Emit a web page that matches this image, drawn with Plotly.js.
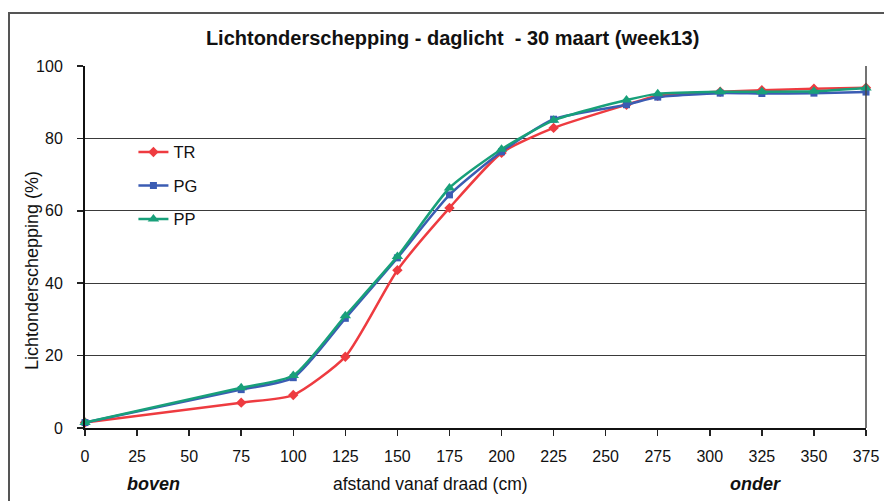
<!DOCTYPE html>
<html>
<head>
<meta charset="utf-8">
<script src="https://cdn.plot.ly/plotly-3.0.1.min.js"></script>
<style>
  body { margin: 0; background: #fff; }
  #frame { position: absolute; left: 8px; top: 12px; width: 900px; height: 520px;
           border: 2px solid #555; box-sizing: border-box; }
  #chart { position: absolute; left: 0; top: 0; width: 884px; height: 501px; }
</style>
</head>
<body>
<div id="frame"></div>
<div id="chart"></div>
<script>
// afstand vanaf draad (cm)
const distance = [0, 75, 100, 125, 150, 175, 200, 225, 260, 275, 305, 325, 350, 375];

// lichtonderschepping (%) per behandeling
const tr = [1.5, 7.0, 9.1, 19.7, 43.6, 60.8, 76.0, 82.9, 89.3, 91.8, 92.9, 93.3, 93.7, 94.0];
const pg = [1.5, 10.6, 13.9, 30.3, 47.0, 64.4, 76.3, 85.3, 89.3, 91.4, 92.5, 92.4, 92.5, 92.8];
const pp = [1.5, 11.1, 14.5, 31.0, 47.4, 66.3, 77.0, 85.0, 90.6, 92.3, 92.9, 92.9, 93.0, 93.9];

const xTicks = [0, 25, 50, 75, 100, 125, 150, 175, 200, 225, 250, 275, 300, 325, 350, 375];
const yTicks = [0, 20, 40, 60, 80, 100];

const TR_COLOR = "#ee3b40";
const PG_COLOR = "#3b5cb3";
const PP_COLOR = "#18a07a";

const FONT = "Liberation Sans, Arial, sans-serif";

function series(name, y, color, symbol, size, group) {
  return {
    x: distance, y, name, type: "scatter", mode: "lines+markers",
    legendgroup: group,
    line: { color, width: 2.5, shape: "spline", smoothing: 0.6 },
    marker: { color, symbol, size },
    cliponaxis: false,
  };
}

const traces = [
  series("TR", tr, TR_COLOR, "diamond", 8, "a"),
  series("PG", pg, PG_COLOR, "square", 7, "b"),
  series("PP", pp, PP_COLOR, "triangle-up", 10, "c"),
];

const layout = {
  width: 884, height: 501,
  paper_bgcolor: "rgba(0,0,0,0)",
  plot_bgcolor: "rgba(0,0,0,0)",
  font: { family: FONT, color: "#111", size: 16 },
  margin: { l: 85, r: 18, t: 66, b: 73 },
  title: {
    text: "<b>Lichtonderschepping - daglicht  - 30 maart (week13)</b>",
    x: 0.512, xanchor: "center", y: 0.925, yanchor: "middle",
    font: { size: 20, family: FONT, color: "#111" },
  },
  xaxis: {
    range: [0, 375], tickvals: xTicks, ticktext: xTicks.map(String),
    ticks: "outside", ticklen: 6, tickwidth: 1.5, tickcolor: "#222",
    ticklabelstandoff: 7,
    showline: true, linecolor: "#111", linewidth: 2, mirror: false,
    showgrid: false, zeroline: false,
    tickfont: { size: 16 },
  },
  yaxis: {
    range: [0, 100], tickvals: yTicks,
    ticks: "outside", ticklen: 6, tickwidth: 1.5, tickcolor: "#222",
    ticklabelstandoff: 11,
    showline: true, linecolor: "#111", linewidth: 2,
    showgrid: true, gridcolor: "#3a3a3a", gridwidth: 1.3, zeroline: false,
    tickfont: { size: 16 },
  },
  showlegend: true,
  legend: {
    x: 0.062, y: 0.81, xanchor: "left", yanchor: "top",
    bgcolor: "rgba(0,0,0,0)", traceorder: "grouped", tracegroupgap: 9,
    font: { size: 16.5 },
  },
  shapes: [
    // right border of plot area
    { type: "line", xref: "paper", yref: "paper", x0: 1, x1: 1, y0: 0, y1: 1,
      line: { color: "#444", width: 1.5 } },
  ],
  annotations: [
    // y-axis title sits below the plot centre in the original
    { text: "Lichtonderschepping (%)", textangle: -90, xref: "paper", x: -0.068,
      yref: "paper", y: 0.436, showarrow: false, xanchor: "center", yanchor: "middle",
      font: { size: 18 } },
    { text: "<b><i>boven</i></b>", x: 33, xref: "x", y: -0.155, yref: "paper",
      showarrow: false, yanchor: "middle", font: { size: 18 } },
    { text: "afstand vanaf draad (cm)", x: 166, xref: "x", y: -0.155, yref: "paper",
      showarrow: false, yanchor: "middle", font: { size: 17.5 } },
    { text: "<b><i>onder</i></b>", x: 322, xref: "x", y: -0.155, yref: "paper",
      showarrow: false, yanchor: "middle", font: { size: 18 } },
  ],
};

Plotly.newPlot("chart", traces, layout, { displayModeBar: false, staticPlot: true });
</script>
</body>
</html>
